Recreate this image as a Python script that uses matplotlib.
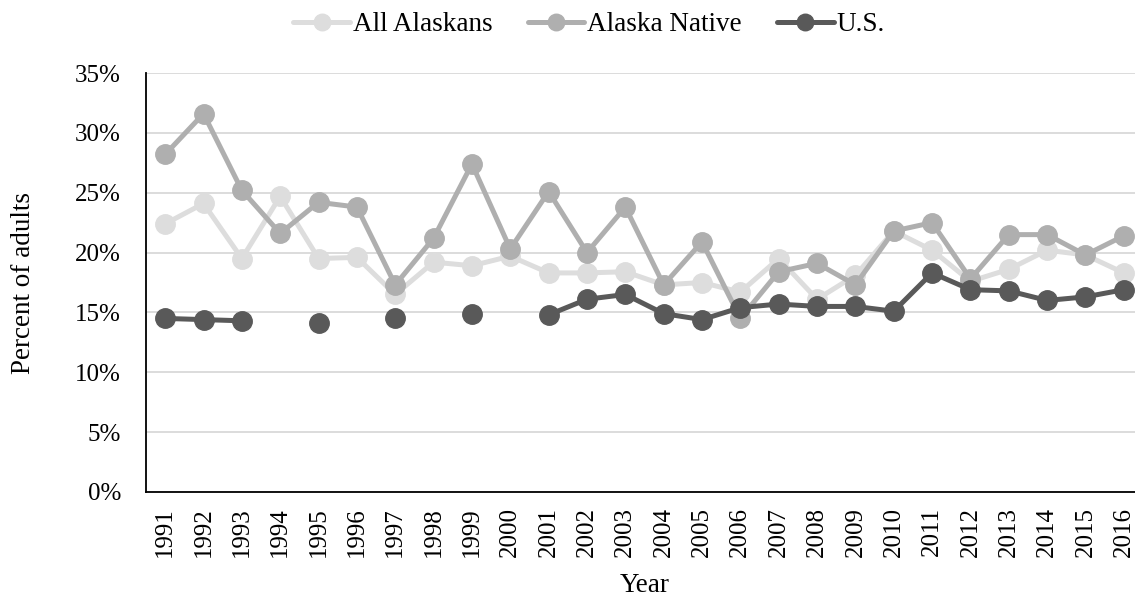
#!/usr/bin/env python3

import numpy as np
import matplotlib
matplotlib.use("Agg")
import matplotlib.pyplot as plt
from matplotlib.ticker import PercentFormatter

nan = np.nan

years = list(range(1991, 2017))

all_alaskans = [22.4, 24.1, 19.5, 24.7, 19.5, 19.6, 16.5, 19.2, 18.9, 19.7,
                18.3, 18.3, 18.4, 17.3, 17.5, 16.7, 19.5, 16.1, 18.1, 21.8,
                20.2, 17.6, 18.6, 20.2, 19.8, 18.3]

alaska_native = [28.2, 31.6, 25.2, 21.6, 24.2, 23.8, 17.3, 21.2, 27.4, 20.3,
                 25.1, 20.0, 23.8, 17.3, 20.9, 14.5, 18.4, 19.1, 17.3, 21.8,
                 22.5, 17.8, 21.5, 21.5, 19.8, 21.4]

us = [14.5, 14.4, 14.3, nan, 14.1, nan, 14.5, nan, 14.9, nan,
      14.8, 16.1, 16.5, 14.9, 14.4, 15.4, 15.7, 15.5, 15.5, 15.1,
      18.3, 16.9, 16.8, 16.0, 16.3, 16.9]

series_names = ["All Alaskans", "Alaska Native", "U.S."]
series_colors = ["#DDDDDD", "#AFAFAF", "#595959"]

plt.rcParams["font.family"] = ["Liberation Serif", "DejaVu Serif"]
FS = 18
FS_TITLE = 19.5

W, H = 1135, 599
fig = plt.figure(figsize=(W / 100, H / 100), dpi=100)
# plot area runs a bit past the right edge, like the original
left, right, top, bottom = 146, 1143, 73, 492
ax = fig.add_axes([left / W, 1 - bottom / H, (right - left) / W, (bottom - top) / H])

x = np.arange(len(years))
for vals, name, col in zip([all_alaskans, alaska_native, us], series_names, series_colors):
    ax.plot(x, vals, color=col, lw=3.6, marker="o", ms=14, label=name,
            solid_capstyle="round", zorder=3)

ax.set_xlim(-0.5, len(years) - 0.5)
ax.set_ylim(0, 35)
ax.set_yticks(np.arange(0, 36, 5))
ax.yaxis.set_major_formatter(PercentFormatter(decimals=0))
ax.set_xticks(x)
ax.set_xticklabels([str(y) for y in years], rotation=90)
ax.tick_params(axis="both", length=0, labelsize=FS)
ax.tick_params(axis="x", pad=11)
ax.tick_params(axis="y", pad=18)

ax.grid(axis="y", color="#D9D9D9", lw=1.3, zorder=0)
ax.set_axisbelow(True)
for s in ["top", "right"]:
    ax.spines[s].set_visible(False)
for s in ["left", "bottom"]:
    ax.spines[s].set_color("black")
    ax.spines[s].set_linewidth(1.3)

ax.set_ylabel("Percent of adults", fontsize=FS_TITLE, labelpad=28)
ax.set_xlabel("Year", fontsize=FS_TITLE, labelpad=11)

fig.legend(loc="upper center", bbox_to_anchor=(589 / W, 1.02), ncol=3, frameon=False,
           fontsize=FS_TITLE, handlelength=2.1, handletextpad=0.1, columnspacing=1.3,
           markerscale=0.85)

fig.savefig("out.png", dpi=100)
